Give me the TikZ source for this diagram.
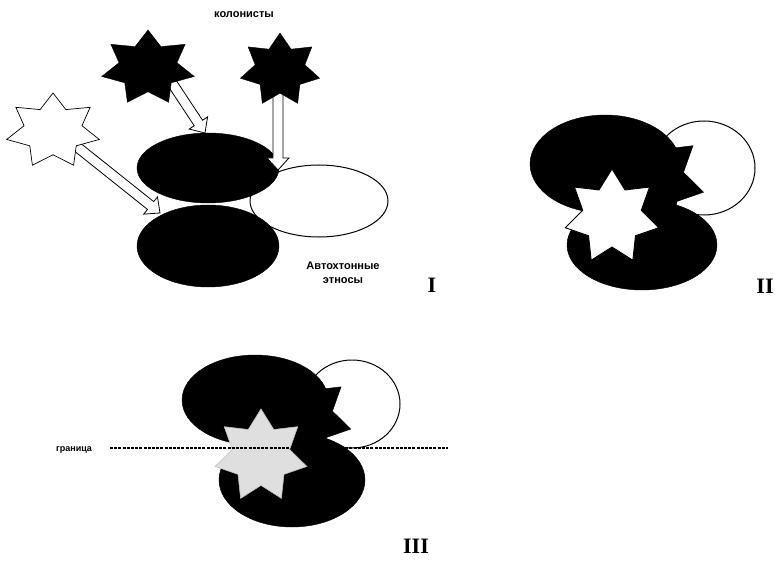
\documentclass[tikz,border=0pt]{standalone}
\usepackage{fontspec}
\setmainfont{Liberation Serif}
\newfontfamily\labfont{Liberation Sans}
\usetikzlibrary{shapes.geometric,calc}
\tikzset{
  starshape/.style={star, star points=7, star point ratio=1.6, minimum size=#1, inner sep=0pt, outer sep=0pt},
  bfill/.style={fill=black, draw=black},
  wfill/.style={fill=white, draw=black, line width=0.9pt},
  gfill/.style={fill=gray!25, draw=gray!50, line width=0.6pt},
  bellipse/.style={ellipse, inner sep=0pt, outer sep=0pt, fill=black, draw=black},
  wellipse/.style={ellipse, inner sep=0pt, outer sep=0pt, fill=white, draw=black, line width=1pt},
  harrow/.style={fill=white, draw=black, line width=0.8pt, line join=miter},
  lab/.style={font=\labfont\bfseries\fontsize{11}{12}\selectfont, inner sep=0pt},
  numeral/.style={font=\bfseries\fontsize{22}{24}\selectfont, inner sep=0pt},
  borderline/.style={dash pattern=on 3pt off 1.2pt, line width=1.6pt}
}
\newcommand\hollowarrow[2]{%
  \coordinate (hc) at ($(#2)!12pt!(#1)$);
  \draw[harrow] ($(#1)!5pt!90:(#2)$) -- ($(hc)!5pt!-90:(#1)$) -- ($(hc)!11pt!-90:(#1)$) -- (#2)
     -- ($(hc)!11pt!90:(#1)$) -- ($(hc)!5pt!90:(#1)$) -- ($(#1)!5pt!-90:(#2)$) -- cycle;}
\begin{document}
\begin{tikzpicture}[x=1pt,y=-1pt]
\useasboundingbox (0,0) rectangle (775,561);
% ---------- Panel I ----------
\node[lab] (col) at (244,15) {колонисты};
\node[wellipse, minimum width=138, minimum height=72] (e1w) at (319,201) {};
\node[bellipse, minimum width=142, minimum height=70] (e1t) at (208,168) {};
\node[bellipse, minimum width=142, minimum height=82] (e1b) at (208,246) {};
\coordinate (a1s) at (170,80);  \coordinate (a1t) at (205,133);
\coordinate (a2s) at (278,92);  \coordinate (a2t) at (278,170);
\coordinate (a3s) at (76,146);  \coordinate (a3t) at (160,213);
\hollowarrow{a1s}{a1t}
\hollowarrow{a2s}{a2t}
\hollowarrow{a3s}{a3t}
\begin{scope}[shift={(148,68)}, xscale=1.25]
  \node[starshape=76, bfill, transform shape] (s1) at (0,0) {};
\end{scope}
\begin{scope}[shift={(280,70)}, xscale=1.1]
  \node[starshape=74, bfill, transform shape] (s2) at (0,0) {};
\end{scope}
\begin{scope}[shift={(53,131)}, xscale=1.25]
  \node[starshape=76, wfill, transform shape, line width=0.7pt] (s3) at (0,0) {};
\end{scope}
\node[lab] (aut1) at (343,266) {Автохтонные};
\node[lab] (aut2) at (343,281) {этносы};
\node[numeral] (n1) at (432,285) {I};
% ---------- Panel II ----------
\node[wellipse, minimum width=102, minimum height=94] (e2w) at (704,168) {};
\node[starshape=110, bfill] (s4) at (650,180) {};
\node[bellipse, minimum width=150, minimum height=98] (e2t) at (605,164) {};
\node[bellipse, minimum width=150, minimum height=90] (e2b) at (642,245) {};
\node[starshape=96, wfill] (s5) at (612,217) {};
\node[numeral] (n2) at (765,286) {II};
% ---------- Panel III ----------
\node[wellipse, minimum width=96, minimum height=88] (e3w) at (352,404) {};
\node[starshape=100, bfill] (s6) at (302,418) {};
\node[bellipse, minimum width=146, minimum height=90] (e3t) at (255,400) {};
\node[bellipse, minimum width=146, minimum height=94] (e3b) at (292,480) {};
\node[starshape=94, gfill] (s7) at (261,456) {};
\coordinate (bl) at (110,448);
\coordinate (br) at (448,448);
\draw[borderline] (bl) -- (br);
\node[lab, font=\labfont\bfseries\fontsize{9}{10}\selectfont] (gr) at (74,450) {граница};
\node[numeral] (n3) at (416,546) {III};
\end{tikzpicture}
\end{document}
